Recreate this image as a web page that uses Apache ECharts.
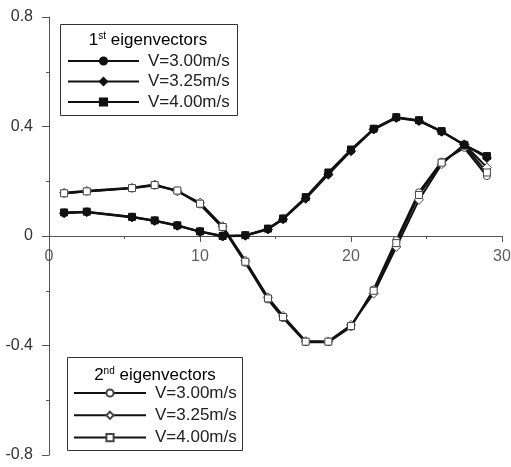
<!DOCTYPE html>
<html>
<head>
  <meta charset="utf-8">
  <script src="https://cdn.jsdelivr.net/npm/echarts@6/dist/echarts.min.js"></script>
</head>
<body style="margin:0">
<div id="main" style="width:511px;height:467px;"></div>
<script type="text/javascript">
var xs = [1, 2.5, 5.5, 7, 8.5, 10, 11.5, 13, 14.5, 15.5, 17, 18.5, 20, 21.5, 23, 24.5, 26, 27.5, 29];
var xTickVals = [0, 10, 20, 30];

// 1st eigenvectors
var f300 = [0.085, 0.088, 0.069, 0.056, 0.038, 0.016, 0.000, 0.002, 0.026, 0.063, 0.140, 0.229, 0.314, 0.391, 0.433, 0.421, 0.381, 0.332, 0.290];
var f325 = [0.083, 0.087, 0.068, 0.055, 0.037, 0.015, -0.002, 0.001, 0.024, 0.061, 0.136, 0.224, 0.310, 0.389, 0.431, 0.420, 0.381, 0.334, 0.285];
var f400 = [0.086, 0.089, 0.070, 0.057, 0.039, 0.017, 0.000, 0.003, 0.027, 0.064, 0.142, 0.232, 0.316, 0.392, 0.434, 0.423, 0.383, 0.333, 0.292];

// 2nd eigenvectors
var s300 = [0.155, 0.163, 0.174, 0.184, 0.165, 0.115, 0.030, -0.098, -0.232, -0.300, -0.388, -0.388, -0.332, -0.195, -0.015, 0.160, 0.272, 0.322, 0.219];
var s325 = [0.158, 0.165, 0.176, 0.188, 0.163, 0.122, 0.036, -0.090, -0.224, -0.292, -0.384, -0.385, -0.325, -0.210, -0.040, 0.132, 0.262, 0.335, 0.250];
var s400 = [0.156, 0.163, 0.175, 0.186, 0.166, 0.118, 0.033, -0.094, -0.228, -0.296, -0.386, -0.386, -0.329, -0.200, -0.026, 0.150, 0.268, 0.330, 0.232];

var labels = {a1: 'V=3.00m/s', a2: 'V=3.25m/s', a3: 'V=4.00m/s',
              b1: 'V=3.00m/s', b2: 'V=3.25m/s', b3: 'V=4.00m/s'};

function pairs(ys) {
  return xs.map(function (x, i) { return [x, ys[i]]; });
}

function mk(name, ys, symbol, filled) {
  return {
    name: name,
    type: 'line',
    data: pairs(ys),
    symbol: symbol,
    symbolSize: symbol === 'diamond' ? 9 : 7,
    showAllSymbol: true,
    lineStyle: {color: '#111', width: 2},
    itemStyle: filled ? {color: '#111', borderColor: '#111', borderWidth: 1}
                      : {color: '#fff', borderColor: '#444', borderWidth: 1},
    z: filled ? 3 : 2
  };
}

var chart = echarts.init(document.getElementById('main'));
var font = 'Liberation Sans, Arial, sans-serif';
var axisGray = '#555';

chart.setOption({
  animation: false,
  backgroundColor: '#fff',
  grid: {left: 49, right: 9, top: 17, bottom: 12, outerBoundsMode: 'none'},
  xAxis: {
    type: 'value', min: 0, max: 30, interval: 10,
    axisLine: {onZero: true, lineStyle: {color: axisGray, width: 1}},
    axisTick: {length: 6, lineStyle: {color: axisGray}},
    minorTick: {show: true, splitNumber: 2, length: 3, lineStyle: {color: axisGray}},
    splitLine: {show: false},
    // v6 keeps onZero labels at the grid edge, so the tick labels are drawn by the series below
    axisLabel: {show: false}
  },
  yAxis: {
    type: 'value', min: -0.8, max: 0.8, interval: 0.4,
    axisLine: {show: true, onZero: false, lineStyle: {color: axisGray, width: 1}},
    axisTick: {show: true, length: 7, lineStyle: {color: axisGray}},
    minorTick: {show: true, splitNumber: 2, length: 3, lineStyle: {color: axisGray}},
    splitLine: {show: false},
    axisLabel: {fontFamily: font, fontSize: 16, color: '#333', margin: 16}
  },
  legend: [{
    data: ['a1', 'a2', 'a3'],
    orient: 'vertical', left: 67, top: 52.5, padding: 0,
    itemWidth: 71, itemHeight: 9, itemGap: 3.5,
    selectedMode: false,
    formatter: function (n) { return labels[n]; },
    textStyle: {fontFamily: font, fontSize: 17, lineHeight: 17, color: '#222', padding: [0, 0, 0, 4]}
  }, {
    data: ['b1', 'b2', 'b3'],
    orient: 'vertical', left: 73, top: 384.5, padding: 0,
    itemWidth: 72, itemHeight: 9, itemGap: 5.3,
    selectedMode: false,
    formatter: function (n) { return labels[n]; },
    textStyle: {fontFamily: font, fontSize: 17, lineHeight: 17, color: '#222', padding: [0, 0, 0, 4]}
  }],
  graphic: [
    {type: 'rect', shape: {x: 60.5, y: 24.5, width: 177, height: 91},
     style: {fill: 'none', stroke: '#333', lineWidth: 1}, z: 10},
    {type: 'rect', shape: {x: 67.5, y: 357.5, width: 175, height: 93},
     style: {fill: 'none', stroke: '#333', lineWidth: 1}, z: 10},
    {type: 'text', x: 148, y: 40, z: 10,
     style: {text: '{a|1}{b|st}{a| eigenvectors}', align: 'center', verticalAlign: 'middle',
       rich: {a: {fontFamily: font, fontSize: 17, color: '#222'},
              b: {fontFamily: font, fontSize: 10, color: '#222', verticalAlign: 'top', padding: [0, 0, 6, 0]}}}},
    {type: 'text', x: 155, y: 375, z: 10,
     style: {text: '{a|2}{b|nd}{a| eigenvectors}', align: 'center', verticalAlign: 'middle',
       rich: {a: {fontFamily: font, fontSize: 17, color: '#222'},
              b: {fontFamily: font, fontSize: 10, color: '#222', verticalAlign: 'top', padding: [0, 0, 6, 0]}}}}
  ],
  series: [
    mk('b1', s300, 'circle', false),
    mk('b2', s325, 'diamond', false),
    mk('b3', s400, 'rect', false),
    mk('a1', f300, 'circle', true),
    mk('a2', f325, 'diamond', true),
    mk('a3', f400, 'rect', true),
    {
      name: 'xticks', type: 'scatter', silent: true, z: 1,
      data: xTickVals.map(function (t) { return [t, 0]; }),
      symbol: 'circle', symbolSize: 0,
      itemStyle: {color: 'rgba(0,0,0,0)'},
      label: {show: true, position: 'bottom', distance: 13,
        formatter: function (p) { return String(p.value[0]); },
        fontFamily: font, fontSize: 16, color: '#333'}
    }
  ]
});
</script>
</body>
</html>
